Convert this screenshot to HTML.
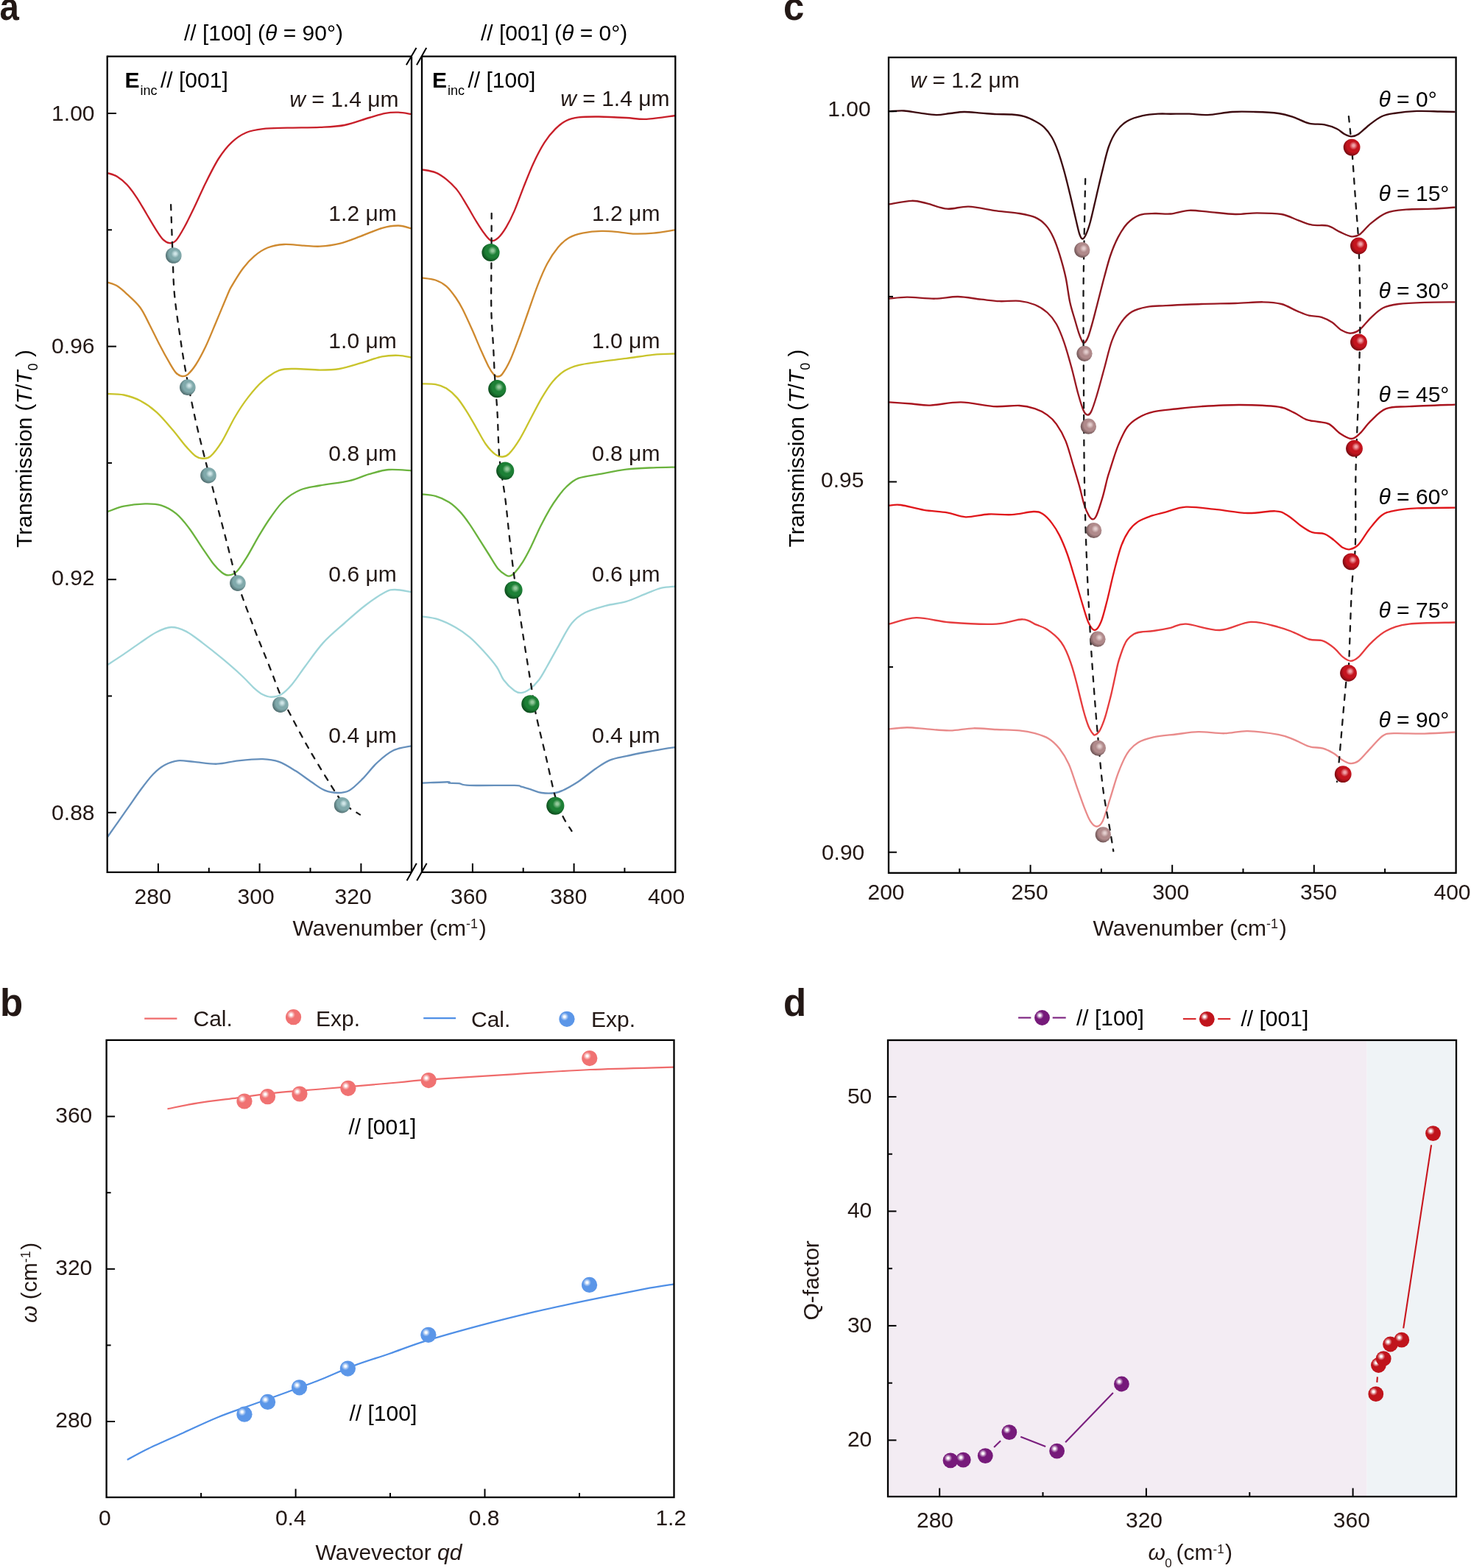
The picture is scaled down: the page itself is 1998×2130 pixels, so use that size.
<!DOCTYPE html><html><head><meta charset="utf-8"><title>Figure</title><style>html,body{margin:0;padding:0;background:#fff;}svg{display:block;}</style></head><body><svg xmlns="http://www.w3.org/2000/svg" width="1998" height="2130" viewBox="0 0 1998 2130" font-family="'Liberation Sans', Arial, sans-serif"><defs><radialGradient id="gloss" cx="0.5" cy="0.5" r="0.5"><stop offset="0" stop-color="#fff" stop-opacity="1"/><stop offset="0.25" stop-color="#fff" stop-opacity="0.95"/><stop offset="0.6" stop-color="#fff" stop-opacity="0.45"/><stop offset="1" stop-color="#fff" stop-opacity="0"/></radialGradient><radialGradient id="s3_teal" cx="0.58" cy="0.42" r="0.62" fx="0.61" fy="0.39"><stop offset="0" stop-color="#cfe5e7"/><stop offset="0.1" stop-color="#cfe5e7"/><stop offset="0.4" stop-color="#80a9ab"/><stop offset="0.62" stop-color="#80a9ab"/><stop offset="1" stop-color="#4b6769"/></radialGradient><radialGradient id="s3_green" cx="0.58" cy="0.42" r="0.62" fx="0.61" fy="0.39"><stop offset="0" stop-color="#93c99b"/><stop offset="0.1" stop-color="#93c99b"/><stop offset="0.4" stop-color="#1d8036"/><stop offset="0.62" stop-color="#1d8036"/><stop offset="1" stop-color="#0a4519"/></radialGradient><radialGradient id="s3_pink" cx="0.58" cy="0.42" r="0.62" fx="0.61" fy="0.39"><stop offset="0" stop-color="#e3cdcd"/><stop offset="0.1" stop-color="#e3cdcd"/><stop offset="0.4" stop-color="#b08a8b"/><stop offset="0.62" stop-color="#b08a8b"/><stop offset="1" stop-color="#654c4d"/></radialGradient><radialGradient id="s3_red" cx="0.58" cy="0.42" r="0.62" fx="0.61" fy="0.39"><stop offset="0" stop-color="#f0a0a6"/><stop offset="0.1" stop-color="#f0a0a6"/><stop offset="0.4" stop-color="#c4141e"/><stop offset="0.62" stop-color="#c4141e"/><stop offset="1" stop-color="#6e0a10"/></radialGradient></defs><text transform="translate(-0.5,27.3) scale(0.93,1)" font-size="51" font-weight="bold" fill="#231815">a</text>
<text x="250" y="55" font-size="30" fill="#000">// [100] (<tspan font-style="italic">θ</tspan> = 90°)</text>
<text x="653" y="55" font-size="30" fill="#000">// [001] (<tspan font-style="italic">θ</tspan> = 0°)</text>
<text x="1064" y="27" font-size="51" font-weight="bold" fill="#231815">c</text>
<text x="0" y="1379.5" font-size="51" font-weight="bold" fill="#231815">b</text>
<text x="1064" y="1379.5" font-size="51" font-weight="bold" fill="#231815">d</text>
<rect x="1206" y="1413" width="650.5" height="620" fill="#f3ecf3"/>
<rect x="1856.5" y="1413" width="121.5" height="620" fill="#eff3f6"/>
<path d="M146,235C148.2,235.8 154.9,237.2 159.3,239.9C163.7,242.6 168.2,246.2 172.6,251C177,255.8 181.6,262.1 186,268.8C190.4,275.5 194.9,283.6 199.3,291C203.7,298.4 208.9,307.4 212.6,313.1C216.3,318.8 218.5,322.5 221.5,325.4C224.5,328.2 227.5,330 230.4,330.2C233.3,330.4 235.9,330.1 239.2,326.5C242.5,322.9 246.2,316.1 250.3,308.7C254.4,301.3 258.9,292.1 263.7,282.1C268.5,272.1 273.7,259.9 279.2,248.8C284.7,237.7 291,224.8 296.9,215.5C302.8,206.2 308.4,199.2 314.7,193.3C321,187.4 327.7,183 334.7,180C341.7,177 347.6,176.2 356.9,175.1C366.1,174 377.2,174.1 390.2,173.7C403.1,173.3 421.7,173.5 434.6,172.9C447.6,172.3 456.8,172.2 467.9,170C479,167.8 491.9,162.7 501.2,160C510.4,157.3 516.8,155 523.4,153.8C530,152.6 535.2,152.5 541.1,152.7C547,152.9 556,154.7 559,155.1" fill="none" stroke="#c8202a" stroke-width="2.35" stroke-linejoin="round"/>
<path d="M146,383.5C148.2,384.4 154.9,385.9 159.3,388.6C163.7,391.3 167.4,394.8 172.6,399.7C177.8,404.6 185.2,410.7 190.4,417.8C195.6,424.9 199.3,433.7 203.7,442.2C208.1,450.7 212.6,460.3 217,468.8C221.4,477.3 226.7,486.9 230.4,493.2C234.1,499.5 236.4,503.6 239.2,506.6C242,509.6 244.4,510.6 247,511C249.6,511.4 251.7,511.4 254.8,508.8C257.9,506.2 261.8,501.8 265.9,495.5C270,489.2 274.8,480.2 279.2,471C283.6,461.8 287.5,451.8 292.5,440C297.5,428.2 305.5,408.6 309.2,400C312.9,391.4 311.2,394.6 314.7,388.6C318.2,382.6 325.1,371 330.3,364.2C335.5,357.4 340.3,352.2 345.8,347.6C351.3,343 356.9,339.1 363.5,336.5C370.1,333.9 377.6,332.5 385.7,332C393.8,331.5 404.2,333.2 412.4,333.6C420.5,334.1 426.5,335.1 434.6,334.7C442.7,334.2 451.9,333.2 461.2,330.9C470.4,328.6 480.5,324.4 490.1,320.9C499.7,317.4 510.4,312.2 518.9,309.8C527.4,307.4 534.4,306.4 541.1,306.5C547.8,306.6 556,309.8 559,310.5" fill="none" stroke="#cf8a30" stroke-width="2.35" stroke-linejoin="round"/>
<path d="M146,535C149.7,535.2 160.8,535 168.2,536.5C175.6,538 183,540.4 190.4,544.3C197.8,548.2 205.2,553.1 212.6,559.8C220,566.4 228.1,576.4 234.8,584.2C241.5,592 247.4,600.5 252.6,606.4C257.8,612.3 262.2,617.1 265.9,619.8C269.6,622.5 271.5,622.7 274.8,622.7C278.1,622.7 281.4,623.6 285.8,619.8C290.2,616 295.8,608.7 301.4,599.8C306.9,590.9 313.2,576.5 319.1,566.5C325,556.5 330.6,548 336.9,539.9C343.2,531.8 349.9,523.8 356.9,517.7C363.9,511.6 371.7,506 379.1,503.2C386.5,500.4 392.1,501.1 401.3,501C410.6,500.9 424.6,502.6 434.6,502.6C444.6,502.6 451.9,502.6 461.2,501C470.4,499.4 480.5,496 490.1,493.2C499.7,490.4 510.4,486.1 518.9,484.4C527.4,482.7 534.4,482.6 541.1,482.8C547.8,483 556,485.1 559,485.5" fill="none" stroke="#c9c42c" stroke-width="2.35" stroke-linejoin="round"/>
<path d="M146,695.1C149.7,693.9 159.7,689.5 168.2,687.7C176.7,685.9 188.6,684.6 197.1,684.4C205.6,684.2 212.3,684.4 219.3,686.6C226.3,688.8 232.9,692.5 239.2,697.7C245.5,702.9 251.1,709.9 257,717.7C262.9,725.5 269.2,736.2 274.8,744.4C280.4,752.5 285.9,761 290.3,766.6C294.7,772.2 298.1,775.2 301.4,777.7C304.7,780.2 307,781.6 310.3,781.4C313.6,781.2 317.3,780.5 321.4,776.5C325.5,772.5 329.5,766 334.7,757.7C339.9,749.4 346.8,735.9 352.4,726.6C357.9,717.4 362.4,710 368,702.2C373.6,694.4 379,686.1 385.7,680C392.4,673.9 399.9,668.9 408,665.5C416.1,662.1 423.5,661.6 434.6,659.5C445.7,657.4 463.4,655.6 474.5,653.1C485.6,650.6 492.3,646.7 501.2,644.2C510.1,641.7 518.2,638.8 527.8,638C537.4,637.2 553.8,639.1 559,639.3" fill="none" stroke="#6bb33e" stroke-width="2.35" stroke-linejoin="round"/>
<path d="M146,903.1C149.7,900.7 160.8,893.6 168.2,888.6C175.6,883.6 183,878.1 190.4,873.1C197.8,868.1 205.6,862.2 212.6,858.7C219.6,855.2 225.9,852.2 232.6,852C239.3,851.8 245.6,854.1 252.6,857.6C259.6,861.1 266.7,867 274.8,873.1C282.9,879.2 292.5,886.8 301.4,894.2C310.3,901.6 320.6,910.6 328,917.5C335.4,924.4 341,931 345.8,935.3C350.6,939.6 353.3,941.6 357,943.5C360.7,945.4 363.9,946.7 368,946.7C372.1,946.8 376.5,946.7 381.3,943.8C386.1,940.9 391.2,935.9 396.8,929.4C402.4,922.9 407.6,914.4 414.6,905C421.6,895.6 430.1,882.9 439,873.1C447.9,863.4 458.3,855 467.9,846.5C477.5,838 487.4,829 496.7,822C505.9,815 516.7,807.8 523.4,804.3C530.1,800.8 530.8,801 536.7,801C542.6,801 555.3,803.8 559,804.3" fill="none" stroke="#9fd5d9" stroke-width="2.35" stroke-linejoin="round"/>
<path d="M146,1137C148.2,1133.8 154.5,1124.9 159.3,1118.1C164.1,1111.2 169.7,1103.3 174.9,1095.9C180.1,1088.5 184.9,1081.1 190.4,1073.7C195.9,1066.3 202.6,1057.2 208.2,1051.5C213.8,1045.8 218.1,1042.3 223.7,1039.3C229.2,1036.3 234.8,1034 241.5,1033.3C248.2,1032.6 254.8,1034.2 263.7,1034.9C272.6,1035.6 284.7,1038 294.7,1037.7C304.7,1037.4 313.2,1034.4 323.6,1033.3C334,1032.2 347.6,1030.8 356.9,1031.1C366.1,1031.4 371.7,1032.2 379.1,1034.9C386.5,1037.6 393.9,1042.5 401.3,1047.1C408.7,1051.7 416.9,1058.2 423.5,1062.6C430.1,1067 435.3,1071.3 441.2,1073.7C447.1,1076.1 453.4,1077 459,1077C464.6,1077 468.9,1076.8 474.5,1073.7C480.1,1070.6 486,1064.5 492.3,1058.2C498.6,1051.9 505.3,1042.5 512.3,1036C519.3,1029.5 526.7,1023.1 534.5,1019.3C542.3,1015.5 554.9,1014.3 559,1013.3" fill="none" stroke="#6690bc" stroke-width="2.35" stroke-linejoin="round"/>
<path d="M232.1,278.1C232.5,289.2 233.7,324.7 234.5,345C235.3,365.3 235.2,380.8 237,400C238.8,419.2 242.4,442.2 245,460C247.6,477.8 249.3,488.6 252.6,506.6C255.9,524.6 260.6,548 265,568C269.4,588 275.3,611.1 279.2,626.4C283.1,641.7 283.8,643.6 288.1,660C292.4,676.4 299.2,703 305,725C310.8,747 316.2,770.8 322.9,792.1C329.6,813.4 337.9,834.2 345,853C352.1,871.8 359.8,889.7 365.8,905C371.9,920.3 377.2,935.4 381.3,945C385.4,954.6 383.8,950.5 390.2,962.7C396.6,974.9 408.9,998.8 420,1018C431.1,1037.2 448.5,1065.4 456.8,1078.1C465.1,1090.8 464.6,1089.2 470,1094C475.4,1098.8 485.8,1104.5 489,1106.6" fill="none" stroke="#1a1a1a" stroke-width="2.3" stroke-dasharray="7.4 9.5" stroke-linecap="round"/>
<circle cx="235.8" cy="347" r="10.8" fill="url(#s3_teal)"/>
<circle cx="254.8" cy="526.1" r="10.8" fill="url(#s3_teal)"/>
<circle cx="283" cy="645.7" r="10.8" fill="url(#s3_teal)"/>
<circle cx="322.9" cy="792.1" r="10.8" fill="url(#s3_teal)"/>
<circle cx="380.9" cy="957.2" r="10.8" fill="url(#s3_teal)"/>
<circle cx="464.6" cy="1093.7" r="10.8" fill="url(#s3_teal)"/>
<path d="M573,230.3C576.1,231 586,232.1 591.5,234.3C597,236.5 601.4,239.6 606.3,243.6C611.2,247.6 616.5,252.5 621.1,258.4C625.7,264.2 629.7,271.6 634,278.7C638.3,285.8 643,294.4 647,300.9C651,307.4 654.7,313.3 658.1,317.6C661.5,321.9 664.2,325.9 667.3,326.8C670.4,327.7 673.2,326.2 676.6,323.1C680,320 684,314.5 687.7,308.3C691.4,302.1 694.8,295.4 698.8,286.1C702.8,276.9 707.4,263.6 711.7,252.8C716,242 720.1,231.3 724.7,221.4C729.3,211.5 734.6,201.3 739.5,193.6C744.4,185.9 749.4,180 754.3,175.1C759.2,170.2 763.9,166.6 769.1,164C774.3,161.4 778.3,160.3 785.7,159.4C793.1,158.5 802.7,158.4 813.5,158.5C824.3,158.6 839.7,159.4 850.5,160C861.3,160.6 867.1,162.3 878.2,161.8C889.3,161.3 910.5,157.8 917,157" fill="none" stroke="#c8202a" stroke-width="2.35" stroke-linejoin="round"/>
<path d="M573,377.4C576.1,377.9 586,378.6 591.5,380.5C597,382.4 601.7,384.8 606.3,388.8C610.9,392.8 615.5,399.2 619.2,404.5C622.9,409.8 624.8,413 628.5,420.3C632.2,427.6 637.4,439.2 641.4,448.1C645.4,457.1 648.8,465.7 652.5,474C656.2,482.3 660.5,492.1 663.6,498C666.7,503.9 669,506.9 671,509.1C673,511.4 673.9,511.6 675.7,511.5C677.6,511.4 679.2,512 682.1,508.2C685,504.4 689.2,497.6 693.2,488.8C697.2,480 702.2,466.3 706.2,455.5C710.2,444.7 713.3,435.3 717.3,424C721.3,412.7 725.9,398.8 730.2,387.9C734.5,376.9 738.6,366.9 743.2,358.3C747.8,349.7 753.1,342 758,336.1C762.9,330.2 767.2,326.3 772.8,323.1C778.3,319.9 783.9,318.2 791.3,316.7C798.7,315.2 808.9,314.1 817.2,313.9C825.5,313.7 834.1,314.8 841.2,315.4C848.3,316 852,317.4 859.7,317.6C867.4,317.8 878,317.6 887.5,316.7C897,315.8 912.1,313.1 917,312.4" fill="none" stroke="#cf8a30" stroke-width="2.35" stroke-linejoin="round"/>
<path d="M573,521.4C576.1,521.5 586,521.1 591.5,522.1C597,523.1 601.4,524.5 606.3,527.6C611.2,530.7 616.5,535.4 621.1,540.6C625.7,545.9 629.7,552.3 634,559.1C638.3,565.9 642.7,573.9 647,581.3C651.3,588.7 655.6,597.5 659.9,603.5C664.2,609.5 669.2,614.6 672.9,617.4C676.6,620.2 679,620.7 682.1,620.5C685.2,620.3 687.4,620.5 691.4,616.4C695.4,612.3 701.3,604.1 706.2,596.1C711.1,588.1 716.1,577.5 721,568.3C725.9,559 730.9,548.9 735.8,540.6C740.7,532.3 745.4,524.6 750.6,518.4C755.8,512.2 761.4,507.3 767.2,503.6C773.1,499.9 778,498.2 785.7,496.2C793.4,494.2 802.7,493.2 813.5,491.6C824.3,490.1 838.2,488.5 850.5,486.9C862.8,485.3 876.4,482.9 887.5,481.8C898.6,480.7 912.1,480.7 917,480.5" fill="none" stroke="#c9c42c" stroke-width="2.35" stroke-linejoin="round"/>
<path d="M573,671.3C576.1,671.7 585.3,672.1 591.5,673.9C597.7,675.7 604.5,678.7 610,682.2C615.5,685.7 620.2,690.2 624.8,695.1C629.4,700 633.4,705.6 637.7,711.8C642,718 646.4,725.3 650.7,732.1C655,738.9 659.3,745.7 663.6,752.5C667.9,759.3 672.6,767.9 676.6,772.8C680.6,777.6 685,780 687.7,781.6C690.4,783.2 691.1,782.8 693,782.3C694.9,781.8 696,781.5 698.8,778.4C701.6,775.3 706.2,769.5 709.9,763.6C713.6,757.7 717,751.2 721,743.2C725,735.2 729.6,724.1 733.9,715.5C738.2,706.9 742.9,698.2 746.9,691.4C750.9,684.6 754.3,679.8 758,674.8C761.7,669.8 764.5,665.7 769.1,661.5C773.7,657.3 778.3,652.6 785.7,649.7C793.1,646.8 802.7,646.2 813.5,644.2C824.3,642.2 838.2,639.2 850.5,637.7C862.8,636.2 876.4,635.8 887.5,635.3C898.6,634.8 912.1,634.7 917,634.6" fill="none" stroke="#6bb33e" stroke-width="2.35" stroke-linejoin="round"/>
<path d="M573,837.4C576.7,838 587.5,838.8 595.2,841.3C602.9,843.8 612.1,848.4 619.2,852.4C626.3,856.4 631.5,860.1 637.7,865.3C643.9,870.5 650,877 656.2,883.8C662.4,890.6 670.1,899.4 674.7,906C679.3,912.6 680,918.1 684,923.5C688,928.9 694.8,935.4 698.8,938.3C702.8,941.2 704.6,941.4 708,941.1C711.4,940.8 715.1,939.3 719.1,936.4C723.1,933.5 728.1,928.7 732.1,923.5C736.1,918.3 738.9,912.5 743.2,905C747.5,897.5 752.5,888 758,878.3C763.5,868.6 770.3,854.5 776.5,846.8C782.7,839.1 787.3,836 795,832C802.7,828 813.5,825.3 822.7,822.8C832,820.3 841.2,820 850.5,817.2C859.8,814.4 870.2,809.2 878.2,806.1C886.2,803 892.1,800.3 898.6,798.7C905.1,797.1 913.9,796.9 917,796.5" fill="none" stroke="#9fd5d9" stroke-width="2.35" stroke-linejoin="round"/>
<path d="M573,1063.7C578.9,1063.5 601.9,1062.2 608.1,1062.2C614.3,1062.2 607.5,1063.4 610,1063.7C612.5,1064 618.4,1063.6 623,1064.1C627.6,1064.6 625.1,1066.4 637.7,1066.9C650.3,1067.4 687.1,1066.6 698.8,1066.9C710.5,1067.2 704.3,1067.8 708,1068.7C711.7,1069.6 716.4,1071 721,1072.4C725.6,1073.8 730.2,1076.2 735.8,1077C741.3,1077.8 749.1,1077.8 754.3,1077C759.5,1076.2 762.6,1074.6 767.2,1072.4C771.8,1070.2 777.4,1067 782,1064.1C786.6,1061.2 790.4,1058.2 795,1054.8C799.6,1051.4 804.2,1047.4 809.8,1043.7C815.3,1040 821.5,1035.4 828.3,1032.6C835.1,1029.8 842.2,1028.9 850.5,1027.1C858.8,1025.2 870.2,1023 878.2,1021.5C886.2,1020 892.1,1018.9 898.6,1017.8C905.1,1016.7 913.9,1015.5 917,1015.1" fill="none" stroke="#6690bc" stroke-width="2.35" stroke-linejoin="round"/>
<path d="M667.7,289.8C667.7,299 667.6,323.3 667.5,345C667.4,366.7 666.9,399.2 667.3,420C667.7,440.8 669.2,454.8 670,470C670.8,485.2 671.1,496 672,511C672.9,526 674.4,541.5 675.5,560C676.6,578.5 676.6,602.6 678.4,622C680.2,641.4 683.9,658.6 686.2,676.6C688.5,694.6 689.9,711.8 692,730C694.1,748.2 695.8,764.1 698.8,785.8C701.8,807.5 706,834.4 710,860C714,885.6 719.7,920.5 722.8,939.3C725.9,958 725.2,957.4 728.4,972.5C731.6,987.6 737.7,1011.6 742,1030C746.3,1048.3 750.5,1069.3 754.3,1082.6C758.1,1095.9 761.3,1102.3 765,1110C768.7,1117.7 774.6,1125.7 776.5,1128.8" fill="none" stroke="#1a1a1a" stroke-width="2.3" stroke-dasharray="7.4 9.5" stroke-linecap="round"/>
<circle cx="666.5" cy="343" r="12.1" fill="url(#s3_green)"/>
<circle cx="675.3" cy="528.2" r="12.1" fill="url(#s3_green)"/>
<circle cx="686.2" cy="639.6" r="12.1" fill="url(#s3_green)"/>
<circle cx="697.5" cy="801.5" r="12.1" fill="url(#s3_green)"/>
<circle cx="720.4" cy="956.4" r="12.1" fill="url(#s3_green)"/>
<circle cx="754.3" cy="1094.6" r="12.1" fill="url(#s3_green)"/>
<path d="M1208,151.2C1211.3,151.1 1221.1,150.1 1227.9,150.5C1234.7,150.9 1241.5,152.5 1248.8,153.4C1256.1,154.3 1264.8,156 1271.8,156.1C1278.8,156.2 1284.3,154.7 1290.6,154C1296.9,153.3 1302.5,152.1 1309.5,152C1316.5,151.9 1325.2,153.1 1332.5,153.6C1339.8,154.1 1346.4,154.8 1353.4,155.1C1360.4,155.4 1368,155 1374.3,155.5C1380.6,156 1385.8,156.7 1391,158.2C1396.2,159.7 1401.2,162.1 1405.7,164.5C1410.2,166.9 1414.4,169.2 1418.2,172.9C1422,176.6 1425.6,181.1 1428.7,186.5C1431.8,191.9 1434.2,197.6 1437,205.3C1439.8,213 1442.6,222.4 1445.4,232.5C1448.2,242.6 1451.2,255.1 1453.8,265.9C1456.4,276.7 1459,288.6 1461.1,297.3C1463.2,306 1464.8,313.7 1466.3,318.2C1467.8,322.7 1468.7,324.3 1470.1,324.5C1471.5,324.7 1472.9,323 1474.7,319.2C1476.5,315.4 1478.5,310.4 1480.9,301.5C1483.3,292.6 1486.5,277.8 1489.3,265.9C1492.1,254 1494.9,241.6 1497.7,230.4C1500.5,219.2 1502.9,207.7 1506,199C1509.1,190.3 1512.3,183.8 1516.5,178.1C1520.7,172.3 1525.2,168 1531.1,164.5C1537,161 1545,158.8 1552,157.2C1559,155.6 1566.6,155.1 1572.9,154.7C1579.2,154.3 1583,154.7 1590,154.7C1597,154.7 1606.7,154.5 1615.1,154.7C1623.5,154.9 1630.5,156.5 1640.2,156.1C1650,155.7 1662.8,152.7 1673.6,152C1684.4,151.3 1694.5,151.7 1705,152C1715.5,152.3 1727.7,152.8 1736.4,154C1745.1,155.2 1750.3,157 1757.3,159.3C1764.3,161.6 1771.2,165.9 1778.2,167.6C1785.2,169.3 1792.8,168.1 1799.1,169.3C1805.4,170.5 1811.3,172.8 1815.8,175C1820.3,177.2 1823,180.6 1826.3,182.3C1829.6,184 1832.6,185.4 1835.7,185.4C1838.8,185.4 1841.1,184.9 1845.1,182.3C1849.1,179.7 1854.6,173.7 1859.8,169.7C1865,165.7 1870.9,160.8 1876.5,158.2C1882.1,155.6 1885.2,155.2 1893.2,154C1901.2,152.8 1914.1,151.3 1924.6,150.9C1935.1,150.5 1947.3,151.3 1956,151.5C1964.7,151.7 1973.1,151.9 1976.5,152" fill="none" stroke="#3d0b10" stroke-width="2.35" stroke-linejoin="round"/>
<path d="M1208,277.4C1213.1,276.6 1229.9,273 1238.4,272.8C1247,272.6 1251.3,274.6 1259.3,276.4C1267.3,278.2 1277.1,283 1286.5,283.7C1295.9,284.4 1304.5,280.2 1315.7,280.6C1326.9,281.1 1341.9,284.8 1353.4,286.4C1364.9,288 1376,288.5 1384.7,290C1393.4,291.5 1399.8,292.6 1405.7,295.2C1411.6,297.8 1416.1,301.2 1420.3,305.7C1424.5,310.2 1427.6,315.8 1430.7,322.4C1433.8,329 1436.3,336.3 1439.1,345.4C1441.9,354.5 1445.2,366 1447.5,376.8C1449.8,387.6 1451.1,400.4 1453.2,410.2C1455.3,419.9 1458.2,428.3 1460.2,435.3C1462.2,442.3 1463.8,447.9 1465.3,452.4C1466.8,456.9 1468.3,460.3 1469.3,462.5C1470.3,464.7 1470.5,465.2 1471.3,465.5C1472.1,465.8 1473.1,466 1474.3,464.5C1475.5,463 1476.7,461.2 1478.4,456.5C1480.1,451.8 1482.4,443.5 1484.4,436.3C1486.4,429.1 1487.8,423.1 1490.4,413.2C1493,403.3 1496.8,387.8 1499.8,376.8C1502.8,365.9 1505,356.6 1508.1,347.5C1511.2,338.4 1514.8,329.7 1518.6,322.4C1522.4,315.1 1526.2,308.7 1531.1,303.6C1536,298.6 1541.6,294.4 1547.9,292.1C1554.2,289.8 1561.8,290.3 1568.8,290C1575.8,289.7 1582.3,291.2 1590,290.5C1597.7,289.8 1606.4,286.2 1615.1,285.8C1623.8,285.4 1631.8,287 1642.3,287.9C1652.8,288.8 1667,290.8 1677.8,291C1688.6,291.2 1696.6,289.3 1707.1,289.3C1717.6,289.3 1731.2,289.3 1740.6,291C1750,292.7 1756.6,296.9 1763.6,299.4C1770.6,301.8 1775.8,304.5 1782.4,305.7C1789,306.9 1797,305.1 1803.3,306.7C1809.6,308.3 1814.6,312.7 1820,315.1C1825.4,317.5 1831.2,320.8 1835.7,321.3C1840.2,321.8 1842.9,321.1 1847.2,318.2C1851.5,315.2 1855.9,308.4 1861.8,303.6C1867.7,298.8 1874.8,292.5 1882.8,289.3C1890.8,286.1 1899.5,285.6 1909.9,284.7C1920.4,283.8 1934.4,284.2 1945.5,283.7C1956.6,283.2 1971.3,282 1976.5,281.6" fill="none" stroke="#8c1820" stroke-width="2.35" stroke-linejoin="round"/>
<path d="M1208,405.7C1212,405.4 1221.8,403.6 1232.1,403.6C1242.4,403.6 1258.2,405.8 1269.7,405.7C1281.2,405.6 1290.6,402.8 1301.1,403C1311.6,403.2 1323.1,405.7 1332.5,406.7C1341.9,407.7 1348.9,408.8 1357.6,409.2C1366.3,409.6 1376.7,408 1384.7,408.8C1392.7,409.6 1399.4,411.4 1405.7,414C1412,416.6 1417.5,420.1 1422.4,424.5C1427.3,428.9 1431.1,433.4 1434.9,440.2C1438.7,447 1441.9,455.2 1445.4,465.3C1448.9,475.4 1452.7,489.3 1455.8,500.8C1458.9,512.3 1461.6,524.9 1464.2,534.3C1466.8,543.7 1469.4,552.4 1471.5,557.3C1473.6,562.2 1475,563.2 1476.8,563.6C1478.5,564 1479.9,563.6 1482,559.4C1484.1,555.2 1486.3,548.3 1489.3,538.5C1492.3,528.7 1496.3,513.4 1499.8,500.8C1503.3,488.2 1506.4,473.6 1510.2,463.2C1514,452.8 1518.3,444.7 1522.8,438.1C1527.3,431.5 1531.5,427.1 1537.4,423.5C1543.3,419.9 1550.6,418.2 1558.3,416.8C1566,415.4 1571.2,415.7 1583.4,415.1C1595.7,414.5 1616.1,413.5 1631.8,413C1647.5,412.5 1663.8,412.4 1677.8,412C1691.8,411.6 1705,410.1 1715.5,410.3C1726,410.5 1732.9,411 1740.6,413C1748.3,415 1755.2,419.8 1761.5,422.4C1767.8,425 1772.6,427.3 1778.2,428.7C1783.8,430.1 1789.7,429.2 1794.9,430.8C1800.1,432.4 1805.1,435.1 1809.6,438.1C1814.1,441.1 1817.9,446.2 1822.1,448.6C1826.3,451 1830.5,452.9 1834.7,452.7C1838.9,452.5 1842.7,451 1847.2,447.5C1851.7,444 1856.6,436.7 1861.8,431.8C1867,426.9 1872.3,421.3 1878.6,418.2C1884.9,415.1 1890.1,414.2 1899.5,413C1908.9,411.8 1922.2,411.3 1935,410.9C1947.8,410.4 1969.6,410.4 1976.5,410.3" fill="none" stroke="#9a1a24" stroke-width="2.35" stroke-linejoin="round"/>
<path d="M1208,546.4C1213.1,546.8 1229.2,547.8 1238.4,548.5C1247.7,549.2 1252.3,551 1263.5,550.6C1274.7,550.2 1291,546.1 1305.3,546.4C1319.6,546.6 1336,551.3 1349.2,552.1C1362.4,552.9 1375.3,550.5 1384.7,551C1394.1,551.5 1399.4,553.1 1405.7,555.2C1412,557.3 1417.5,560.1 1422.4,563.6C1427.3,567.1 1430.7,570.2 1434.9,576.1C1439.1,582 1443.7,589.7 1447.5,599.1C1451.3,608.5 1454.8,622.5 1457.9,632.6C1461,642.8 1463.5,651.2 1466,660C1468.5,668.8 1470.5,678.8 1472.6,685.5C1474.7,692.2 1476.9,696.9 1478.8,700.2C1480.7,703.5 1482.3,705.4 1484.1,705.4C1485.8,705.4 1487,705.2 1489.3,700.2C1491.6,695.2 1495.2,683.5 1497.7,675.1C1500.2,666.7 1502.3,656.4 1504,650C1505.7,643.6 1505.7,644.2 1508.1,636.8C1510.5,629.4 1514.8,614.8 1518.6,605.4C1522.4,596 1526.6,586.6 1531.1,580.3C1535.6,574 1539.9,571.2 1545.8,567.7C1551.7,564.2 1558.2,561.4 1566.7,559.4C1575.2,557.4 1586.2,556.7 1597,555.5C1607.8,554.3 1617.3,553 1631.8,552.1C1646.3,551.2 1666.7,549.9 1684.1,550C1701.5,550.1 1724.2,551 1736.4,552.7C1748.6,554.4 1751,557.5 1757.3,560.4C1763.6,563.2 1768.4,567.7 1774,569.8C1779.6,571.9 1785.5,572 1790.7,573C1795.9,574 1800.5,573.5 1805.4,576.1C1810.3,578.7 1815,585.4 1820,588.7C1825,592 1831.2,596 1835.7,596C1840.2,596 1842.9,592.7 1847.2,588.7C1851.5,584.7 1855.9,577.5 1861.8,571.9C1867.7,566.3 1874.1,558.5 1882.8,555.2C1891.5,551.9 1898.5,553 1914.1,552.1C1929.7,551.2 1966.1,550 1976.5,549.6" fill="none" stroke="#a8141e" stroke-width="2.35" stroke-linejoin="round"/>
<path d="M1208,686.6C1210.6,686.5 1215.9,685 1223.7,686C1231.5,687 1244.6,691.2 1255.1,692.9C1265.6,694.6 1277.1,694.8 1286.5,696.4C1295.9,698 1302.2,701.9 1311.6,702.3C1321,702.6 1332.5,699 1342.9,698.5C1353.4,698 1364.2,699.7 1374.3,699.1C1384.4,698.5 1396.6,695.2 1403.6,695C1410.6,694.8 1411.9,695.5 1416.1,698.1C1420.3,700.7 1424.9,705.7 1428.7,710.6C1432.5,715.5 1435.6,720.4 1439.1,727.4C1442.6,734.4 1446.1,742.8 1449.6,752.5C1453.1,762.2 1456.5,774.4 1460,785.9C1463.5,797.4 1467.4,811.4 1470.5,821.5C1473.6,831.6 1476,840.9 1478.8,846.6C1481.6,852.4 1484.4,856.4 1487.2,856C1490,855.6 1492.8,851.3 1495.6,844.5C1498.4,837.7 1501.1,826 1503.9,815.2C1506.7,804.4 1509.2,791.9 1512.3,779.7C1515.4,767.5 1519.3,751.8 1522.8,742C1526.3,732.2 1529.4,726.7 1533.2,721.1C1537,715.5 1540.9,711.9 1545.8,708.6C1550.7,705.3 1556.2,703.4 1562.5,701.2C1568.8,699 1575.3,697.7 1583.4,695.6C1591.5,693.5 1599.4,689.3 1610.9,688.7C1622.5,688.1 1638.8,690.8 1652.7,692.2C1666.7,693.6 1681.3,696.6 1694.6,697C1707.8,697.4 1723.2,693.8 1732.2,694.3C1741.2,694.8 1743,696.8 1748.9,700.2C1754.8,703.6 1762.1,711 1767.7,714.8C1773.3,718.6 1777.2,721.5 1782.4,723.2C1787.6,725 1794.2,723.6 1799.1,725.3C1804,727 1807.5,730.5 1811.7,733.6C1815.9,736.7 1820.6,742 1824.2,744.1C1827.8,746.2 1830.1,746.9 1833.6,746.2C1837.1,745.5 1840.7,744.4 1845.1,739.9C1849.5,735.4 1854.6,725.6 1859.8,719C1865,712.4 1870.9,704.4 1876.5,700.2C1882.1,696 1885.2,695.5 1893.2,693.9C1901.2,692.3 1910.7,691.1 1924.6,690.4C1938.5,689.7 1967.8,689.8 1976.5,689.7" fill="none" stroke="#e0181c" stroke-width="2.35" stroke-linejoin="round"/>
<path d="M1208,847.6C1214.1,846.2 1230.8,839.6 1244.6,839.2C1258.4,838.9 1272.5,844.1 1290.6,845.5C1308.7,846.9 1337,848.3 1353.4,847.6C1369.8,846.9 1379.9,841.1 1388.9,841.3C1398,841.5 1402.5,846.6 1407.7,848.7C1412.9,850.8 1415.8,851.3 1420,853.7C1424.2,856.1 1429.2,860 1432.8,863.1C1436.4,866.2 1438.8,868.9 1441.4,872.5C1444,876.1 1446.1,879.9 1448.2,884.5C1450.3,889.1 1452.5,895 1454.2,899.9C1455.9,904.8 1457.1,908.6 1458.5,913.6C1459.9,918.6 1461.4,924.2 1462.8,929.8C1464.2,935.3 1465.6,941.2 1467,946.9C1468.4,952.6 1469.9,958.7 1471.3,964C1472.7,969.3 1474.2,974.3 1475.6,978.6C1477,982.9 1478.3,986.6 1479.9,989.7C1481.5,992.8 1483.7,996 1485,997.4C1486.3,998.8 1486.3,998.9 1487.6,998.3C1488.9,997.7 1491.1,996.1 1492.7,994C1494.3,991.9 1495.6,988.8 1497,985.4C1498.4,982 1499.9,978 1501.3,973.4C1502.7,968.8 1504.1,963.4 1505.5,958C1506.9,952.6 1508.4,947 1509.8,940.9C1511.2,934.8 1512.7,927.8 1514.1,921.3C1515.5,914.8 1517,907.2 1518.4,901.6C1519.8,896 1521.3,892 1522.7,887.9C1524.1,883.8 1525.5,879.9 1526.9,876.8C1528.3,873.7 1529.1,871.7 1531.2,869.1C1533.3,866.5 1536.7,863.2 1539.8,861.4C1542.9,859.6 1545.5,859.2 1550,858.5C1554.5,857.8 1560,858 1566.7,857C1573.4,856 1582.6,854.4 1590,852.8C1597.4,851.2 1599.8,847.1 1610.9,847.6C1622.1,848.1 1642.3,856.5 1656.9,856C1671.5,855.5 1685.5,845.6 1698.7,844.9C1712,844.2 1726.6,849.4 1736.4,851.8C1746.2,854.2 1750.3,856.3 1757.3,859.1C1764.3,861.9 1771.6,866.6 1778.2,868.5C1784.8,870.4 1791.4,868.7 1797,870.6C1802.6,872.5 1807.2,876.3 1811.7,880C1816.2,883.7 1820.4,889.6 1824.2,892.6C1828,895.6 1831.2,897.8 1834.7,897.8C1838.2,897.8 1840.6,896.6 1845.1,892.6C1849.6,888.6 1855.5,879.7 1861.8,873.8C1868.1,867.9 1874.1,861.4 1882.8,857C1891.5,852.6 1898.5,849.5 1914.1,847.6C1929.7,845.7 1966.1,845.9 1976.5,845.5" fill="none" stroke="#e63c3e" stroke-width="2.35" stroke-linejoin="round"/>
<path d="M1208,990.3C1212,989.9 1223.5,988.2 1232.1,988.2C1240.6,988.2 1249.5,989.6 1259.3,990.3C1269,991 1280.1,992.6 1290.6,992.4C1301,992.2 1311.5,989.5 1322,989.3C1332.5,989.1 1343,990.5 1353.4,991C1363.9,991.5 1376,991.5 1384.7,992.4C1393.4,993.3 1399.1,994.4 1405.7,996.2C1412.3,998.1 1418.9,1000 1424.5,1003.5C1430.1,1007 1434.6,1011.4 1439.1,1017.1C1443.6,1022.9 1447.9,1029.6 1451.7,1038C1455.5,1046.4 1458.6,1057.5 1462.1,1067.3C1465.6,1077.1 1469.5,1088.6 1472.6,1096.6C1475.7,1104.6 1478.1,1111.1 1480.9,1115.4C1483.7,1119.8 1486.5,1122.7 1489.3,1122.7C1492.1,1122.7 1494.6,1121.9 1497.7,1115.4C1500.8,1109 1504.6,1094.8 1508.1,1084C1511.6,1073.2 1514.8,1060.7 1518.6,1050.6C1522.4,1040.5 1526.6,1030.4 1531.1,1023.4C1535.6,1016.4 1539.9,1012.4 1545.8,1008.7C1551.7,1005 1558.2,1003.3 1566.7,1001.4C1575.2,999.5 1586.8,998.7 1597,997.5C1607.2,996.3 1616.6,994.3 1627.6,994.1C1638.6,993.9 1652,996.4 1663.2,996.2C1674.4,996 1682.4,992.8 1694.6,993.1C1706.8,993.4 1726,996 1736.4,997.9C1746.9,999.8 1750.3,1001.9 1757.3,1004.6C1764.3,1007.3 1771.6,1012 1778.2,1014C1784.8,1016 1791.4,1015.1 1797,1016.7C1802.6,1018.3 1807.5,1020.9 1811.7,1023.4C1815.9,1025.9 1818.4,1029.4 1822.1,1031.7C1825.8,1034 1829.8,1036.7 1833.6,1037C1837.4,1037.3 1840.4,1037.3 1845.1,1033.8C1849.8,1030.3 1856.2,1021.9 1861.8,1016.1C1867.4,1010.4 1873.4,1002.6 1878.6,999.3C1883.8,996 1883.8,996.7 1893.2,996.2C1902.6,995.8 1921.1,996.9 1935,996.6C1948.9,996.3 1969.6,994.9 1976.5,994.5" fill="none" stroke="#e98b8b" stroke-width="2.35" stroke-linejoin="round"/>
<path d="M1474.2,242.9C1473.9,257.4 1473,302.5 1472.5,330C1472,357.5 1471.6,374.8 1471.5,408.1C1471.4,441.4 1471.8,488.8 1472,530C1472.2,571.2 1472.3,616.9 1473,655.2C1473.7,693.5 1474.8,728.6 1476,760C1477.2,791.4 1478.7,820.1 1479.9,843.4C1481.1,866.7 1481.9,879.2 1483.3,900C1484.7,920.8 1487.1,951.9 1488.4,968.3C1489.7,984.7 1489.4,981.3 1491,998.3C1492.6,1015.2 1495.2,1048 1498,1070C1500.8,1092 1505.7,1115.6 1508.1,1130C1510.5,1144.4 1511.6,1151.8 1512.3,1156.2" fill="none" stroke="#1a1a1a" stroke-width="2.3" stroke-dasharray="7.4 9.5" stroke-linecap="round"/>
<path d="M1831.9,158.2C1832.6,165.2 1834.5,181.4 1836,200C1837.5,218.6 1839.4,247.7 1841,270C1842.6,292.3 1844.5,310.6 1845.5,333.9C1846.5,357.2 1847,388.1 1847.2,410C1847.5,431.9 1847.4,443.3 1847,465C1846.6,486.7 1845.9,510.8 1845,540C1844.1,569.2 1842.2,606.7 1841.5,640C1840.8,673.3 1841.8,713.2 1840.9,739.9C1840,766.6 1837.6,770.9 1836,800C1834.4,829.1 1832.8,893.5 1831.5,914.5C1830.2,935.5 1830.6,905.9 1828.4,926.1C1826.2,946.3 1820.7,1013.3 1818.6,1035.9C1816.5,1058.6 1816.4,1057.7 1816,1062" fill="none" stroke="#1a1a1a" stroke-width="2.3" stroke-dasharray="7.4 9.5" stroke-linecap="round"/>
<circle cx="1469.8" cy="339.6" r="10.6" fill="url(#s3_pink)"/>
<circle cx="1473" cy="480.3" r="10.6" fill="url(#s3_pink)"/>
<circle cx="1478.4" cy="579.2" r="10.6" fill="url(#s3_pink)"/>
<circle cx="1485.7" cy="720.5" r="10.6" fill="url(#s3_pink)"/>
<circle cx="1491" cy="868.2" r="10.6" fill="url(#s3_pink)"/>
<circle cx="1491.4" cy="1016.1" r="10.6" fill="url(#s3_pink)"/>
<circle cx="1498.3" cy="1133.8" r="10.6" fill="url(#s3_pink)"/>
<circle cx="1836.1" cy="200.1" r="11.4" fill="url(#s3_red)"/>
<circle cx="1845.5" cy="333.9" r="11.4" fill="url(#s3_red)"/>
<circle cx="1845.5" cy="464.9" r="11.4" fill="url(#s3_red)"/>
<circle cx="1839.5" cy="609.2" r="11.4" fill="url(#s3_red)"/>
<circle cx="1835.1" cy="762.9" r="11.4" fill="url(#s3_red)"/>
<circle cx="1831.5" cy="914.3" r="11.4" fill="url(#s3_red)"/>
<circle cx="1824.2" cy="1051.6" r="11.4" fill="url(#s3_red)"/>
<path d="M227.5,1506.3C234.4,1505 252.9,1500.8 268.7,1498.3C284.5,1495.8 304.4,1493.6 322.3,1491.3C340.2,1489 356.2,1486.5 375.9,1484.4C395.6,1482.4 412.9,1481.3 440.3,1479C467.7,1476.7 516.4,1472.6 540,1470.5C563.6,1468.4 555.2,1468.5 581.9,1466.6C608.6,1464.7 663.6,1461.4 700.2,1459.1C736.8,1456.8 765.6,1454.6 801.5,1453C837.4,1451.4 896.5,1450.2 915.5,1449.6" fill="none" stroke="#ef6b6b" stroke-width="2.2" stroke-linejoin="round"/>
<path d="M172.8,1983C177.6,1980.5 188.9,1973.8 201.6,1967.7C214.2,1961.6 233,1953.5 248.7,1946.4C264.4,1939.3 280.2,1931.6 295.9,1925.2C311.6,1918.8 327.4,1913.7 343.1,1908C358.8,1902.3 374.6,1896.8 390.3,1891C406,1885.2 422.6,1879.2 437.5,1873.3C452.4,1867.4 464.7,1861.2 480,1855.4C495.3,1849.6 512.8,1844.4 529.3,1838.7C545.8,1833 558.1,1827.8 578.7,1821.4C599.3,1815 628,1807 652.7,1800.4C677.4,1793.8 702.1,1787.7 726.7,1781.9C751.4,1776.2 776,1771 800.6,1765.9C825.2,1760.8 855.5,1754.7 874.6,1751.1C893.8,1747.5 908.7,1745.5 915.5,1744.4" fill="none" stroke="#4f8fe6" stroke-width="2.2" stroke-linejoin="round"/>
<circle cx="332" cy="1496" r="10.6" fill="#f07272"/>
<circle cx="328.8" cy="1492.8" r="5.5" fill="url(#gloss)"/>
<circle cx="363.5" cy="1489.7" r="10.6" fill="#f07272"/>
<circle cx="360.3" cy="1486.5" r="5.5" fill="url(#gloss)"/>
<circle cx="407" cy="1486" r="10.6" fill="#f07272"/>
<circle cx="403.8" cy="1482.8" r="5.5" fill="url(#gloss)"/>
<circle cx="472.9" cy="1478.3" r="10.6" fill="#f07272"/>
<circle cx="469.7" cy="1475.1" r="5.5" fill="url(#gloss)"/>
<circle cx="582.2" cy="1467.6" r="10.6" fill="#f07272"/>
<circle cx="579" cy="1464.4" r="5.5" fill="url(#gloss)"/>
<circle cx="800.8" cy="1437.6" r="10.6" fill="#f07272"/>
<circle cx="797.6" cy="1434.4" r="5.5" fill="url(#gloss)"/>
<circle cx="332" cy="1921.2" r="10.6" fill="#5b96e8"/>
<circle cx="328.8" cy="1918" r="5.5" fill="url(#gloss)"/>
<circle cx="363.6" cy="1904.4" r="10.6" fill="#5b96e8"/>
<circle cx="360.4" cy="1901.2" r="5.5" fill="url(#gloss)"/>
<circle cx="406.6" cy="1884.8" r="10.6" fill="#5b96e8"/>
<circle cx="403.4" cy="1881.6" r="5.5" fill="url(#gloss)"/>
<circle cx="472.4" cy="1859.1" r="10.6" fill="#5b96e8"/>
<circle cx="469.2" cy="1855.9" r="5.5" fill="url(#gloss)"/>
<circle cx="581.9" cy="1813.3" r="10.6" fill="#5b96e8"/>
<circle cx="578.7" cy="1810.1" r="5.5" fill="url(#gloss)"/>
<circle cx="800.6" cy="1745.4" r="10.6" fill="#5b96e8"/>
<circle cx="797.4" cy="1742.2" r="5.5" fill="url(#gloss)"/>
<line x1="196.2" y1="1383.6" x2="240.4" y2="1383.6" stroke="#ef6b6b" stroke-width="2.2"/>
<circle cx="398.6" cy="1381.7" r="10.6" fill="#f07272"/>
<circle cx="395.4" cy="1378.5" r="5.5" fill="url(#gloss)"/>
<line x1="575.2" y1="1383.2" x2="619.1" y2="1383.2" stroke="#4f8fe6" stroke-width="2.2"/>
<circle cx="770" cy="1384.3" r="10.6" fill="#5b96e8"/>
<circle cx="766.8" cy="1381.1" r="5.5" fill="url(#gloss)"/>
<line x1="1350.1" y1="1966" x2="1359.1" y2="1957.2" stroke="#7a1f7e" stroke-width="2.1"/>
<line x1="1386.3" y1="1951.7" x2="1420.2" y2="1965" stroke="#7a1f7e" stroke-width="2.1"/>
<line x1="1447.1" y1="1959.2" x2="1511.9" y2="1891.9" stroke="#7a1f7e" stroke-width="2.1"/>
<circle cx="1291" cy="1983.9" r="10.4" fill="#761a7a"/>
<circle cx="1287.8" cy="1980.7" r="5.4" fill="url(#gloss)"/>
<circle cx="1308.3" cy="1983.1" r="10.4" fill="#761a7a"/>
<circle cx="1305.1" cy="1979.9" r="5.4" fill="url(#gloss)"/>
<circle cx="1338.3" cy="1977.6" r="10.4" fill="#761a7a"/>
<circle cx="1335.1" cy="1974.4" r="5.4" fill="url(#gloss)"/>
<circle cx="1370.9" cy="1945.6" r="10.4" fill="#761a7a"/>
<circle cx="1367.7" cy="1942.4" r="5.4" fill="url(#gloss)"/>
<circle cx="1435.6" cy="1971.1" r="10.4" fill="#761a7a"/>
<circle cx="1432.4" cy="1967.9" r="5.4" fill="url(#gloss)"/>
<circle cx="1523.4" cy="1880" r="10.4" fill="#761a7a"/>
<circle cx="1520.2" cy="1876.8" r="5.4" fill="url(#gloss)"/>
<line x1="1870.3" y1="1877.8" x2="1870.9" y2="1870.4" stroke="#c8161e" stroke-width="2.1"/>
<line x1="1906.2" y1="1804.4" x2="1944.1" y2="1555.4" stroke="#c8161e" stroke-width="2.1"/>
<circle cx="1868.8" cy="1893.7" r="10.4" fill="#c0141c"/>
<circle cx="1865.6" cy="1890.5" r="5.4" fill="url(#gloss)"/>
<circle cx="1872.4" cy="1854.5" r="10.4" fill="#c0141c"/>
<circle cx="1869.2" cy="1851.3" r="5.4" fill="url(#gloss)"/>
<circle cx="1879.2" cy="1845.7" r="10.4" fill="#c0141c"/>
<circle cx="1876" cy="1842.5" r="5.4" fill="url(#gloss)"/>
<circle cx="1888.5" cy="1826" r="10.4" fill="#c0141c"/>
<circle cx="1885.3" cy="1822.8" r="5.4" fill="url(#gloss)"/>
<circle cx="1903.8" cy="1820.2" r="10.4" fill="#c0141c"/>
<circle cx="1900.6" cy="1817" r="5.4" fill="url(#gloss)"/>
<circle cx="1946.5" cy="1539.6" r="10.4" fill="#c0141c"/>
<circle cx="1943.3" cy="1536.4" r="5.4" fill="url(#gloss)"/>
<line x1="1383.1" y1="1382.5" x2="1400.4" y2="1382.5" stroke="#7a1f7e" stroke-width="2.1"/>
<line x1="1429.7" y1="1382.5" x2="1447.7" y2="1382.5" stroke="#7a1f7e" stroke-width="2.1"/>
<circle cx="1415.5" cy="1382.5" r="10.4" fill="#761a7a"/>
<circle cx="1412.3" cy="1379.3" r="5.4" fill="url(#gloss)"/>
<line x1="1606.9" y1="1384.1" x2="1624.5" y2="1384.1" stroke="#d8262a" stroke-width="2.1"/>
<line x1="1654.2" y1="1384.1" x2="1671.3" y2="1384.1" stroke="#d8262a" stroke-width="2.1"/>
<circle cx="1639.3" cy="1384.3" r="10.4" fill="#c0141c"/>
<circle cx="1636.1" cy="1381.1" r="5.4" fill="url(#gloss)"/>
<line x1="146" y1="76.7" x2="559" y2="76.7" stroke="#000" stroke-width="2.3"/>
<line x1="146" y1="1184.8" x2="559" y2="1184.8" stroke="#000" stroke-width="2.3"/>
<line x1="145.7" y1="75.6" x2="145.7" y2="1185.9" stroke="#000" stroke-width="2.3"/>
<line x1="559" y1="76.7" x2="559" y2="1184.8" stroke="#000" stroke-width="2.3"/>
<line x1="573" y1="76.7" x2="917.3" y2="76.7" stroke="#000" stroke-width="2.3"/>
<line x1="573" y1="1184.8" x2="917.3" y2="1184.8" stroke="#000" stroke-width="2.3"/>
<line x1="573" y1="76.7" x2="573" y2="1184.8" stroke="#000" stroke-width="2.3"/>
<line x1="917.3" y1="75.6" x2="917.3" y2="1185.9" stroke="#000" stroke-width="2.3"/>
<line x1="551.9" y1="88.2" x2="565.5" y2="64.9" stroke="#000" stroke-width="2.0"/>
<line x1="566" y1="88.2" x2="579.2" y2="64.9" stroke="#000" stroke-width="2.0"/>
<line x1="552.6" y1="1196.2" x2="565.8" y2="1172.8" stroke="#000" stroke-width="2.0"/>
<line x1="566.2" y1="1196.2" x2="579.6" y2="1172.8" stroke="#000" stroke-width="2.0"/>
<line x1="146" y1="154" x2="158" y2="154" stroke="#000" stroke-width="2.0"/>
<line x1="146" y1="312.3" x2="152" y2="312.3" stroke="#000" stroke-width="2.0"/>
<line x1="146" y1="470.6" x2="158" y2="470.6" stroke="#000" stroke-width="2.0"/>
<line x1="146" y1="628.9" x2="152" y2="628.9" stroke="#000" stroke-width="2.0"/>
<line x1="146" y1="787.2" x2="158" y2="787.2" stroke="#000" stroke-width="2.0"/>
<line x1="146" y1="945.5" x2="152" y2="945.5" stroke="#000" stroke-width="2.0"/>
<line x1="146" y1="1103.8" x2="158" y2="1103.8" stroke="#000" stroke-width="2.0"/>
<line x1="214.9" y1="1184.8" x2="214.9" y2="1172.8" stroke="#000" stroke-width="2.0"/>
<line x1="283.8" y1="1184.8" x2="283.8" y2="1178.8" stroke="#000" stroke-width="2.0"/>
<line x1="352.6" y1="1184.8" x2="352.6" y2="1172.8" stroke="#000" stroke-width="2.0"/>
<line x1="421.5" y1="1184.8" x2="421.5" y2="1178.8" stroke="#000" stroke-width="2.0"/>
<line x1="490.4" y1="1184.8" x2="490.4" y2="1172.8" stroke="#000" stroke-width="2.0"/>
<line x1="641.9" y1="1184.8" x2="641.9" y2="1172.8" stroke="#000" stroke-width="2.0"/>
<line x1="710.7" y1="1184.8" x2="710.7" y2="1178.8" stroke="#000" stroke-width="2.0"/>
<line x1="779.6" y1="1184.8" x2="779.6" y2="1172.8" stroke="#000" stroke-width="2.0"/>
<line x1="848.4" y1="1184.8" x2="848.4" y2="1178.8" stroke="#000" stroke-width="2.0"/>
<text x="128.5" y="163.7" font-size="30" text-anchor="end" fill="#231815">1.00</text>
<text x="128.5" y="480.4" font-size="30" text-anchor="end" fill="#231815">0.96</text>
<text x="128.5" y="795.4" font-size="30" text-anchor="end" fill="#231815">0.92</text>
<text x="128.5" y="1113.5" font-size="30" text-anchor="end" fill="#231815">0.88</text>
<text x="207.6" y="1227.8" font-size="30" text-anchor="middle" fill="#231815">280</text>
<text x="347.6" y="1227.8" font-size="30" text-anchor="middle" fill="#231815">300</text>
<text x="479.6" y="1227.8" font-size="30" text-anchor="middle" fill="#231815">320</text>
<text x="637" y="1227.8" font-size="30" text-anchor="middle" fill="#231815">360</text>
<text x="772.4" y="1227.8" font-size="30" text-anchor="middle" fill="#231815">380</text>
<text x="905.1" y="1227.8" font-size="30" text-anchor="middle" fill="#231815">400</text>
<text x="397.5" y="1270.7" font-size="30" fill="#231815">Wavenumber (cm<tspan font-size="18" dy="-9.5">-1</tspan><tspan dy="9.5" dx="1.5">)</tspan></text>
<text transform="translate(43.3,744) rotate(-90)" font-size="30" fill="#000">Transmission (<tspan font-style="italic">T</tspan>/<tspan font-style="italic">T</tspan><tspan font-size="18" dy="8">0</tspan><tspan dy="-8"> )</tspan></text>
<text x="169.5" y="119.1" font-size="30" fill="#000"><tspan font-weight="bold">E</tspan><tspan font-size="18" dy="10" dx="1">inc</tspan><tspan dy="-10" dx="4.5">// [001]</tspan></text>
<text x="587" y="118.8" font-size="30" fill="#000"><tspan font-weight="bold">E</tspan><tspan font-size="18" dy="10" dx="1">inc</tspan><tspan dy="-10" dx="4.5">// [100]</tspan></text>
<text x="541.5" y="144.9" font-size="30" text-anchor="end" fill="#231815"><tspan font-style="italic">w</tspan> = 1.4 μm</text>
<text x="909.5" y="144.3" font-size="30" text-anchor="end" fill="#231815"><tspan font-style="italic">w</tspan> = 1.4 μm</text>
<text x="538.7" y="300.1" font-size="30" text-anchor="end" fill="#231815">1.2 μm</text>
<text x="896.4" y="300.1" font-size="30" text-anchor="end" fill="#231815">1.2 μm</text>
<text x="538.7" y="473.1" font-size="30" text-anchor="end" fill="#231815">1.0 μm</text>
<text x="896.4" y="473.1" font-size="30" text-anchor="end" fill="#231815">1.0 μm</text>
<text x="538.7" y="626" font-size="30" text-anchor="end" fill="#231815">0.8 μm</text>
<text x="896.4" y="626" font-size="30" text-anchor="end" fill="#231815">0.8 μm</text>
<text x="538.7" y="789.9" font-size="30" text-anchor="end" fill="#231815">0.6 μm</text>
<text x="896.4" y="789.9" font-size="30" text-anchor="end" fill="#231815">0.6 μm</text>
<text x="538.7" y="1009.3" font-size="30" text-anchor="end" fill="#231815">0.4 μm</text>
<text x="896.4" y="1009.3" font-size="30" text-anchor="end" fill="#231815">0.4 μm</text>
<rect x="1207" y="78" width="770.6" height="1107.8" fill="none" stroke="#000" stroke-width="2.3"/>
<line x1="1207" y1="151.2" x2="1218" y2="151.2" stroke="#000" stroke-width="2.0"/>
<line x1="1207" y1="402.9" x2="1213" y2="402.9" stroke="#000" stroke-width="2.0"/>
<line x1="1207" y1="654.5" x2="1218" y2="654.5" stroke="#000" stroke-width="2.0"/>
<line x1="1207" y1="906.1" x2="1213" y2="906.1" stroke="#000" stroke-width="2.0"/>
<line x1="1207" y1="1157.7" x2="1218" y2="1157.7" stroke="#000" stroke-width="2.0"/>
<line x1="1303.3" y1="1185.8" x2="1303.3" y2="1179.8" stroke="#000" stroke-width="2.0"/>
<line x1="1399.6" y1="1185.8" x2="1399.6" y2="1174.8" stroke="#000" stroke-width="2.0"/>
<line x1="1495.9" y1="1185.8" x2="1495.9" y2="1179.8" stroke="#000" stroke-width="2.0"/>
<line x1="1592.2" y1="1185.8" x2="1592.2" y2="1174.8" stroke="#000" stroke-width="2.0"/>
<line x1="1688.5" y1="1185.8" x2="1688.5" y2="1179.8" stroke="#000" stroke-width="2.0"/>
<line x1="1784.8" y1="1185.8" x2="1784.8" y2="1174.8" stroke="#000" stroke-width="2.0"/>
<line x1="1881.1" y1="1185.8" x2="1881.1" y2="1179.8" stroke="#000" stroke-width="2.0"/>
<text x="1182.7" y="158" font-size="30" text-anchor="end" fill="#231815">1.00</text>
<text x="1173.4" y="661.9" font-size="30" text-anchor="end" fill="#231815">0.95</text>
<text x="1174.3" y="1167.6" font-size="30" text-anchor="end" fill="#231815">0.90</text>
<text x="1203.5" y="1222" font-size="30" text-anchor="middle" fill="#231815">200</text>
<text x="1398.6" y="1222" font-size="30" text-anchor="middle" fill="#231815">250</text>
<text x="1590.2" y="1222" font-size="30" text-anchor="middle" fill="#231815">300</text>
<text x="1791" y="1222" font-size="30" text-anchor="middle" fill="#231815">350</text>
<text x="1972.5" y="1222" font-size="30" text-anchor="middle" fill="#231815">400</text>
<text x="1484.5" y="1270.9" font-size="30" fill="#231815">Wavenumber (cm<tspan font-size="18" dy="-9.5">-1</tspan><tspan dy="9.5" dx="1.5">)</tspan></text>
<text transform="translate(1092.2,743.4) rotate(-90)" font-size="30" fill="#000">Transmission (<tspan font-style="italic">T</tspan>/<tspan font-style="italic">T</tspan><tspan font-size="18" dy="8">0</tspan><tspan dy="-8"> )</tspan></text>
<text x="1236.5" y="118.5" font-size="30" fill="#231815"><tspan font-style="italic">w</tspan> = 1.2 μm</text>
<text x="1872.5" y="145.1" font-size="30" fill="#000"><tspan font-style="italic">θ</tspan> = 0°</text>
<text x="1872.5" y="272.5" font-size="30" fill="#000"><tspan font-style="italic">θ</tspan> = 15°</text>
<text x="1872.5" y="405.4" font-size="30" fill="#000"><tspan font-style="italic">θ</tspan> = 30°</text>
<text x="1872.5" y="545.7" font-size="30" fill="#000"><tspan font-style="italic">θ</tspan> = 45°</text>
<text x="1872.5" y="685.3" font-size="30" fill="#000"><tspan font-style="italic">θ</tspan> = 60°</text>
<text x="1872.5" y="839.2" font-size="30" fill="#000"><tspan font-style="italic">θ</tspan> = 75°</text>
<text x="1872.5" y="987.7" font-size="30" fill="#000"><tspan font-style="italic">θ</tspan> = 90°</text>
<rect x="144.6" y="1412.9" width="770.9" height="621.1" fill="none" stroke="#000" stroke-width="2.3"/>
<line x1="144.6" y1="1516.6" x2="156.1" y2="1516.6" stroke="#000" stroke-width="2.0"/>
<line x1="144.6" y1="1620.2" x2="150.6" y2="1620.2" stroke="#000" stroke-width="2.0"/>
<line x1="144.6" y1="1723.8" x2="156.1" y2="1723.8" stroke="#000" stroke-width="2.0"/>
<line x1="144.6" y1="1827.4" x2="150.6" y2="1827.4" stroke="#000" stroke-width="2.0"/>
<line x1="144.6" y1="1931" x2="156.1" y2="1931" stroke="#000" stroke-width="2.0"/>
<line x1="273.1" y1="2034" x2="273.1" y2="2028" stroke="#000" stroke-width="2.0"/>
<line x1="401.6" y1="2034" x2="401.6" y2="2022.5" stroke="#000" stroke-width="2.0"/>
<line x1="530" y1="2034" x2="530" y2="2028" stroke="#000" stroke-width="2.0"/>
<line x1="658.5" y1="2034" x2="658.5" y2="2022.5" stroke="#000" stroke-width="2.0"/>
<line x1="787" y1="2034" x2="787" y2="2028" stroke="#000" stroke-width="2.0"/>
<text x="125.3" y="1524.8" font-size="30" text-anchor="end" fill="#231815">360</text>
<text x="125.3" y="1732" font-size="30" text-anchor="end" fill="#231815">320</text>
<text x="125.3" y="1939.2" font-size="30" text-anchor="end" fill="#231815">280</text>
<text x="142.4" y="2072" font-size="30" text-anchor="middle" fill="#231815">0</text>
<text x="394.8" y="2072" font-size="30" text-anchor="middle" fill="#231815">0.4</text>
<text x="657.6" y="2072" font-size="30" text-anchor="middle" fill="#231815">0.8</text>
<text x="911.3" y="2072" font-size="30" text-anchor="middle" fill="#231815">1.2</text>
<text x="428.5" y="2118.5" font-size="30" fill="#231815">Wavevector <tspan font-style="italic">qd</tspan></text>
<text transform="translate(50.3,1797) rotate(-90)" font-size="30" fill="#231815"><tspan font-style="italic">ω</tspan> (cm<tspan font-size="18" dy="-9.5">-1</tspan><tspan dy="9.5" dx="1.5">)</tspan></text>
<text x="262.5" y="1394.3" font-size="30" fill="#231815">Cal.</text>
<text x="429" y="1394.3" font-size="30" fill="#231815">Exp.</text>
<text x="640" y="1394.9" font-size="30" fill="#231815">Cal.</text>
<text x="803" y="1394.9" font-size="30" fill="#231815">Exp.</text>
<text x="473.5" y="1541" font-size="30" fill="#000">// [001]</text>
<text x="474.5" y="1930" font-size="30" fill="#000">// [100]</text>
<rect x="1206" y="1413" width="772" height="620" fill="none" stroke="#000" stroke-width="2.3"/>
<line x1="1206" y1="1489.9" x2="1217.5" y2="1489.9" stroke="#000" stroke-width="2.0"/>
<line x1="1206" y1="1567.7" x2="1212" y2="1567.7" stroke="#000" stroke-width="2.0"/>
<line x1="1206" y1="1645.4" x2="1217.5" y2="1645.4" stroke="#000" stroke-width="2.0"/>
<line x1="1206" y1="1723.2" x2="1212" y2="1723.2" stroke="#000" stroke-width="2.0"/>
<line x1="1206" y1="1800.9" x2="1217.5" y2="1800.9" stroke="#000" stroke-width="2.0"/>
<line x1="1206" y1="1878.7" x2="1212" y2="1878.7" stroke="#000" stroke-width="2.0"/>
<line x1="1206" y1="1956.4" x2="1217.5" y2="1956.4" stroke="#000" stroke-width="2.0"/>
<line x1="1276.2" y1="2033" x2="1276.2" y2="2021.5" stroke="#000" stroke-width="2.0"/>
<line x1="1416.5" y1="2033" x2="1416.5" y2="2027" stroke="#000" stroke-width="2.0"/>
<line x1="1556.9" y1="2033" x2="1556.9" y2="2021.5" stroke="#000" stroke-width="2.0"/>
<line x1="1697.3" y1="2033" x2="1697.3" y2="2027" stroke="#000" stroke-width="2.0"/>
<line x1="1837.6" y1="2033" x2="1837.6" y2="2021.5" stroke="#000" stroke-width="2.0"/>
<text x="1184.3" y="1498.9" font-size="30" text-anchor="end" fill="#231815">50</text>
<text x="1184.3" y="1654.4" font-size="30" text-anchor="end" fill="#231815">40</text>
<text x="1184.3" y="1809.9" font-size="30" text-anchor="end" fill="#231815">30</text>
<text x="1184.3" y="1965.4" font-size="30" text-anchor="end" fill="#231815">20</text>
<text x="1270" y="2074.7" font-size="30" text-anchor="middle" fill="#231815">280</text>
<text x="1554" y="2074.7" font-size="30" text-anchor="middle" fill="#231815">320</text>
<text x="1835.8" y="2074.7" font-size="30" text-anchor="middle" fill="#231815">360</text>
<text y="2119.2" font-size="30" fill="#231815"><tspan x="1559.5" font-style="italic">ω</tspan><tspan x="1582.3" font-size="17" dy="10">0</tspan><tspan x="1597.5" dy="-10">(cm</tspan><tspan font-size="17" dy="-9.5">-1</tspan><tspan dy="9.5" dx="1.5">)</tspan></text>
<text transform="translate(1111.5,1793.5) rotate(-90)" font-size="30" fill="#231815">Q-factor</text>
<text x="1462" y="1392.7" font-size="30" fill="#000">// [100]</text>
<text x="1685.5" y="1393.8" font-size="30" fill="#000">// [001]</text></svg></body></html>
